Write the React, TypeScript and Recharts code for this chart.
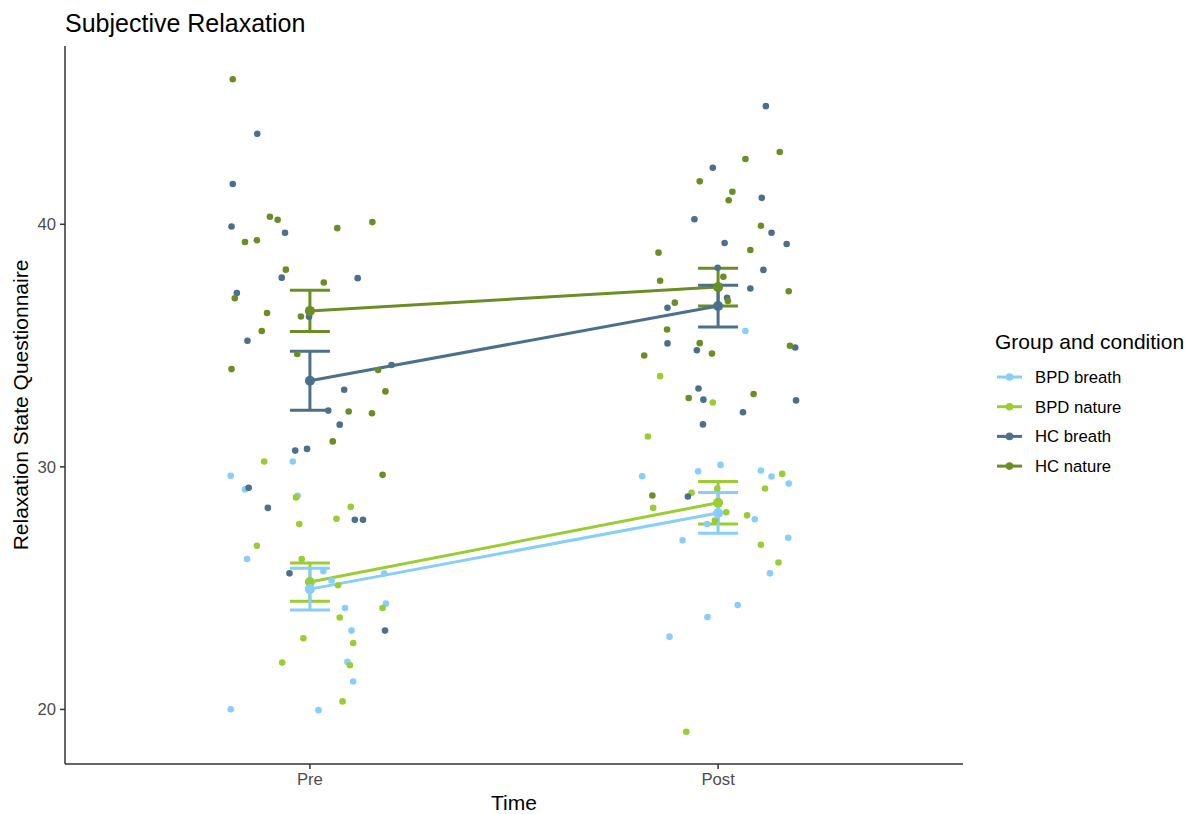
import { ComposedChart, Scatter, Line, XAxis, YAxis, ErrorBar, Label } from 'recharts';

// jittered observations: [time position + jitter, score]
const bpdBreathPts: [number, number][] = [
  [0.958, 30.22], [0.806, 29.63], [0.841, 29.07], [0.970, 28.81], [0.846, 26.20], [1.033, 25.70],
  [1.053, 25.32], [1.182, 25.60], [1.186, 24.36], [1.086, 24.18], [1.102, 23.25], [1.092, 21.96],
  [1.106, 21.15], [0.806, 20.01], [1.021, 19.97],
  [2.067, 35.60], [2.006, 30.08], [1.951, 29.82], [2.105, 29.85], [2.131, 29.60], [1.814, 29.61],
  [2.173, 29.31], [2.090, 27.84], [1.973, 27.64], [2.172, 27.08], [1.913, 26.97], [2.127, 25.61],
  [2.048, 24.30], [1.974, 23.81], [1.881, 23.00],
];

const bpdNaturePts: [number, number][] = [
  [0.888, 30.22], [0.966, 28.74], [1.100, 28.35], [1.065, 27.86], [0.974, 27.64], [0.870, 26.75],
  [0.980, 26.20], [1.069, 25.12], [1.178, 24.18], [1.073, 23.79], [0.984, 22.93], [1.106, 22.74],
  [0.932, 21.93], [1.098, 21.82], [1.080, 20.33],
  [1.858, 33.74], [1.987, 32.65], [1.828, 31.25], [2.157, 29.71], [2.115, 29.11], [1.935, 28.93],
  [1.998, 29.11], [1.841, 28.31], [2.020, 28.13], [2.071, 28.00], [1.992, 27.79], [2.105, 26.79],
  [2.148, 26.06], [1.922, 19.08],
];

const hcBreathPts: [number, number][] = [
  [0.871, 43.73], [0.811, 41.66], [0.808, 39.91], [0.939, 39.65], [0.931, 37.80], [1.117, 37.78],
  [0.821, 37.17], [0.998, 36.19], [0.847, 35.20], [1.200, 34.20], [1.084, 33.18], [1.045, 32.32],
  [1.073, 31.74], [0.964, 30.67], [0.993, 30.74], [0.850, 29.14], [0.897, 28.31], [1.110, 27.82],
  [1.130, 27.82], [0.950, 25.61], [1.184, 23.25],
  [2.117, 44.87], [1.987, 42.33], [2.107, 41.09], [1.942, 40.21], [2.131, 39.65], [2.016, 39.23],
  [2.168, 39.19], [1.999, 38.21], [2.111, 38.12], [2.079, 37.35], [2.022, 36.97], [1.876, 36.56],
  [1.876, 35.09], [1.948, 34.81], [2.189, 34.92], [1.952, 33.23], [1.964, 32.77], [2.191, 32.74],
  [2.061, 32.25], [1.963, 31.75], [1.926, 28.78],
];

const hcNaturePts: [number, number][] = [
  [0.811, 45.98], [0.902, 40.31], [0.921, 40.19], [1.067, 39.84], [1.153, 40.09], [0.841, 39.27],
  [0.870, 39.34], [0.941, 38.13], [1.034, 37.60], [0.816, 36.95], [0.895, 36.34], [0.978, 36.20],
  [0.882, 35.60], [0.969, 34.65], [0.808, 34.03], [1.167, 33.99], [1.185, 33.11], [1.095, 32.28],
  [1.152, 32.21], [1.056, 31.05], [1.178, 29.67],
  [2.151, 42.98], [2.067, 42.69], [1.955, 41.77], [2.035, 41.34], [2.026, 40.99], [2.105, 39.94],
  [2.079, 38.94], [1.854, 38.83], [2.013, 37.84], [1.858, 37.67], [2.173, 37.24], [1.894, 36.77],
  [2.024, 36.84], [1.875, 35.66], [1.955, 35.10], [1.985, 34.67], [1.819, 34.59], [2.176, 34.99],
  [1.928, 32.84], [2.087, 33.00], [1.839, 28.82],
];

// group means and standard errors, Pre then Post
const timeLabels = ['Pre', 'Post'];
const bpdBreathMean = [24.96, 28.10];
const bpdBreathSe = [0.86, 0.84];
const bpdNatureMean = [25.25, 28.52];
const bpdNatureSe = [0.79, 0.88];
const hcBreathMean = [33.55, 36.63];
const hcBreathSe = [1.22, 0.86];
const hcNatureMean = [36.43, 37.41];
const hcNatureSe = [0.85, 0.78];

const groups = [
  { name: 'BPD breath', color: '#87CEFA', pts: bpdBreathPts, mean: bpdBreathMean, se: bpdBreathSe },
  { name: 'BPD nature', color: '#9ACD32', pts: bpdNaturePts, mean: bpdNatureMean, se: bpdNatureSe },
  { name: 'HC breath', color: '#4A708B', pts: hcBreathPts, mean: hcBreathMean, se: hcBreathSe },
  { name: 'HC nature', color: '#6B8E23', pts: hcNaturePts, mean: hcNatureMean, se: hcNatureSe },
];

const FONT = '"Liberation Sans", Arial, sans-serif';

const dotShape = (color: string) => (props: any) =>
  <circle cx={props.cx} cy={props.cy} r={3.3} fill={color} />;

export default function App() {
  return (
    <div style={{ position: 'absolute', left: 0, top: 0, width: 1192, height: 814, background: '#fff', fontFamily: FONT }}>
      <ComposedChart width={1192} height={814} margin={{ top: 46, right: 229, bottom: 0, left: 0 }}>
        <XAxis
          dataKey='x'
          type='number'
          domain={[0.4, 2.6]}
          ticks={[1, 2]}
          tickFormatter={(v) => timeLabels[v - 1]}
          allowDataOverflow
          height={50}
          stroke='#333'
          strokeWidth={1.5}
          tickSize={5}
          tickMargin={4}
          tick={{ fill: '#4D4D4D', fontSize: 16.7, fontFamily: FONT }}
        >
          <Label value='Time' position='insideBottom' offset={4} fill='#000' fontSize={21} fontFamily={FONT} />
        </XAxis>
        <YAxis
          dataKey='y'
          type='number'
          domain={[17.75, 47.35]}
          ticks={[20, 30, 40]}
          allowDataOverflow
          width={65}
          stroke='#333'
          strokeWidth={1.5}
          tickSize={5}
          tickMargin={4}
          tick={{ fill: '#4D4D4D', fontSize: 16.7, fontFamily: FONT }}
        >
          <Label
            value='Relaxation State Questionnaire'
            angle={-90}
            position='insideLeft'
            offset={21}
            fill='#000'
            fontSize={21}
            fontFamily={FONT}
            style={{ textAnchor: 'middle' }}
          />
        </YAxis>
        {groups.map((g) => (
          <Scatter
            key={`pts-${g.name}`}
            name={g.name}
            data={g.pts.map(([x, y]) => ({ x, y }))}
            dataKey='y'
            shape={dotShape(g.color)}
            isAnimationActive={false}
          />
        ))}
        {[...groups].reverse().map((g) => (
          <Line
            key={`mean-${g.name}`}
            data={g.mean.map((m, i) => ({ x: i + 1, y: m, se: g.se[i] }))}
            dataKey='y'
            stroke={g.color}
            strokeWidth={3}
            dot={{ r: 5, fill: g.color, stroke: 'none' }}
            activeDot={false}
            isAnimationActive={false}
          >
            <ErrorBar dataKey='se' width={20} stroke={g.color} strokeWidth={3} direction='y' />
          </Line>
        ))}
      </ComposedChart>
      <svg width={1192} height={814} style={{ position: 'absolute', left: 0, top: 0, pointerEvents: 'none' }}>
        <text x={65} y={31.5} fontSize={25} fontFamily={FONT} fill='#000'>Subjective Relaxation</text>
        <text x={995} y={349} fontSize={21} fontFamily={FONT} fill='#000'>Group and condition</text>
        {groups.map((g, i) => {
          const cy = 377 + i * 29.7;
          return (
            <g key={g.name}>
              <line x1={997} x2={1022} y1={cy} y2={cy} stroke={g.color} strokeWidth={3} />
              <circle cx={1009.5} cy={cy} r={3.8} fill={g.color} />
              <text x={1035} y={cy + 6} fontSize={16.7} fontFamily={FONT} fill='#000'>{g.name}</text>
            </g>
          );
        })}
      </svg>
    </div>
  );
}
